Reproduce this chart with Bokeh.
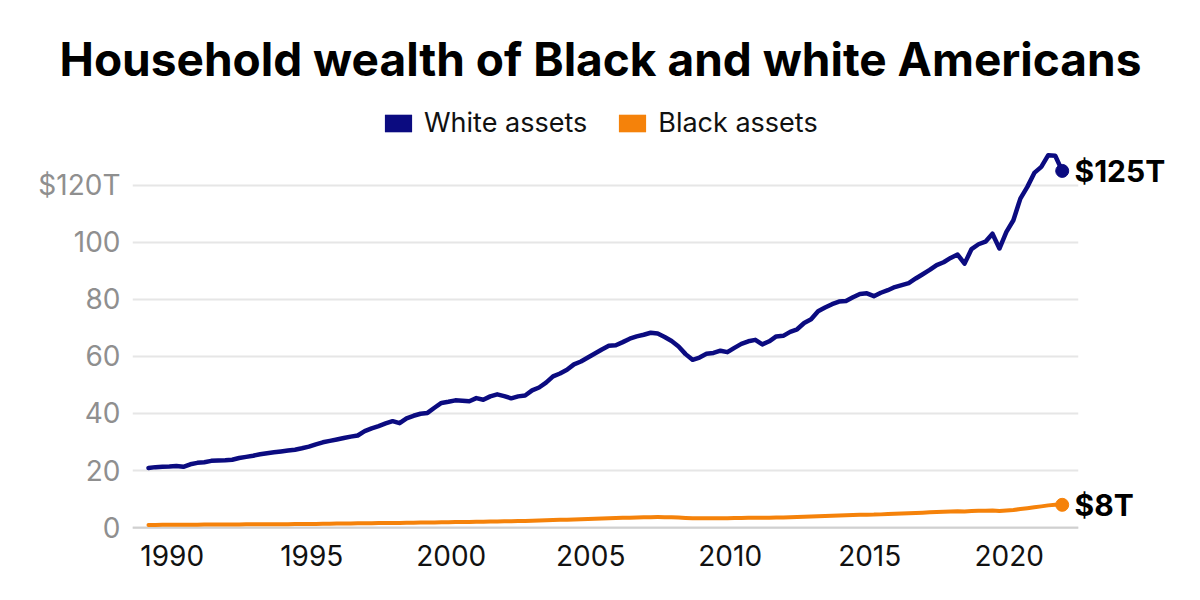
import pandas as pd
from bokeh.plotting import figure
from bokeh.layouts import column
from bokeh.models import (Range1d, FixedTicker, Label, Legend, LegendItem, Span,
                          ColumnDataSource, CustomJSTickFormatter, LinearAxis)
from bokeh.embed import file_html
from bokeh.resources import INLINE

# ---------------- data (trillions of dollars, quarterly) ----------------
quarters = pd.period_range("1989Q3", "2022Q2", freq="Q")

white_assets = [
    20.9, 21.2,                 # 1989 Q3-Q4
    21.3, 21.4, 21.6, 21.3,     # 1990
    22.2, 22.7, 22.9, 23.4,     # 1991
    23.5, 23.6, 23.8, 24.4,     # 1992
    24.8, 25.2, 25.7, 26.1,     # 1993
    26.4, 26.7, 27.0, 27.3,     # 1994
    27.8, 28.4, 29.2, 29.9,     # 1995
    30.4, 30.9, 31.4, 31.9,     # 1996
    32.3, 33.8, 34.8, 35.6,     # 1997
    36.5, 37.3, 36.6, 38.3,     # 1998
    39.2, 39.9, 40.2, 42.0,     # 1999
    43.7, 44.1, 44.6, 44.5,     # 2000
    44.3, 45.4, 44.8, 46.0,     # 2001
    46.7, 46.1, 45.3, 46.0,     # 2002
    46.3, 48.1, 49.1, 50.8,     # 2003
    53.0, 54.0, 55.3, 57.2,     # 2004
    58.2, 59.6, 61.0, 62.4,     # 2005
    63.7, 63.9, 65.0, 66.2,     # 2006
    67.0, 67.6, 68.3, 68.0,     # 2007
    66.8, 65.4, 63.5, 60.8,     # 2008
    58.8, 59.6, 60.9, 61.2,     # 2009
    62.0, 61.5, 63.0, 64.4,     # 2010
    65.3, 65.8, 64.2, 65.3,     # 2011
    67.0, 67.2, 68.6, 69.5,     # 2012
    71.7, 73.0, 75.8, 77.1,     # 2013
    78.3, 79.2, 79.4, 80.7,     # 2014
    81.9, 82.1, 81.1, 82.3,     # 2015
    83.2, 84.3, 85.0, 85.7,     # 2016
    87.3, 88.8, 90.3, 92.0,     # 2017
    93.0, 94.5, 95.7, 92.5,     # 2018
    97.6, 99.3, 100.2, 103.0,   # 2019
    97.8, 103.6, 107.7, 115.3,  # 2020
    119.4, 124.3, 126.4, 130.5, # 2021
    130.3, 125.0,               # 2022 Q1-Q2
]

black_assets = [
    0.95, 0.97,
    0.98, 1.00, 1.00, 0.99,
    1.02, 1.04, 1.06, 1.08,
    1.10, 1.11, 1.12, 1.14,
    1.16, 1.17, 1.18, 1.20,
    1.21, 1.22, 1.23, 1.24,
    1.26, 1.29, 1.32, 1.35,
    1.38, 1.41, 1.44, 1.47,
    1.50, 1.54, 1.58, 1.60,
    1.63, 1.66, 1.65, 1.69,
    1.72, 1.76, 1.79, 1.84,
    1.88, 1.92, 1.96, 1.98,
    2.01, 2.06, 2.08, 2.13,
    2.18, 2.22, 2.24, 2.29,
    2.34, 2.41, 2.48, 2.56,
    2.65, 2.73, 2.80, 2.88,
    2.95, 3.04, 3.12, 3.20,
    3.29, 3.36, 3.43, 3.50,
    3.57, 3.63, 3.68, 3.70,
    3.68, 3.63, 3.55, 3.42,
    3.30, 3.28, 3.30, 3.31,
    3.33, 3.32, 3.36, 3.40,
    3.44, 3.47, 3.45, 3.49,
    3.55, 3.58, 3.64, 3.70,
    3.80, 3.88, 3.98, 4.08,
    4.17, 4.25, 4.32, 4.40,
    4.49, 4.55, 4.57, 4.65,
    4.74, 4.84, 4.94, 5.04,
    5.14, 5.25, 5.36, 5.48,
    5.58, 5.68, 5.78, 5.70,
    5.82, 5.90, 5.96, 6.02,
    5.80, 6.00, 6.20, 6.50,
    6.80, 7.15, 7.45, 7.80,
    8.05, 8.00,
]

year_ticks = [1990, 1995, 2000, 2005, 2010, 2015, 2020]
value_ticks = [0, 20, 40, 60, 80, 100, 120]
series_names = ["White assets", "Black assets"]
title_text = "Household wealth of Black and white Americans"

# ---------------- styling ----------------
NAVY = "#0b0b80"
ORANGE = "#f5820a"
FONT = "Inter"
W = 1200
HEAD_H = 139
MAIN_H = 600 - HEAD_H
ML, MR, MB = 132, 122, 70
FW = W - ML - MR
X0 = 1988.927
X1 = X0 + FW / 27.9
Y0, Y1 = -1.0, 136.0

# ---------------- header: title + legend ----------------
head = figure(width=W, height=HEAD_H, output_backend="svg", toolbar_location=None,
              x_range=Range1d(0, W), y_range=Range1d(HEAD_H, 0),
              x_axis_type=None, y_axis_type=None, min_border=0)
head.frame_align = False
head.outline_line_color = None
head.grid.visible = False
head.background_fill_color = "white"
head.border_fill_color = "white"

head.add_layout(Label(x=600, y=58, text=title_text, text_align="center",
                      text_baseline="middle", text_font=FONT, text_font_size="46px",
                      text_font_style="bold", text_color="#000000"))

nan = float("nan")
sw_w = head.quad(left=[nan], right=[nan], bottom=[nan], top=[nan],
                 fill_color=NAVY, line_color=None)
sw_b = head.quad(left=[nan], right=[nan], bottom=[nan], top=[nan],
                 fill_color=ORANGE, line_color=None)
legend = Legend(items=[LegendItem(label=series_names[0], renderers=[sw_w]),
                       LegendItem(label=series_names[1], renderers=[sw_b])],
                orientation="horizontal", location=(381, 0),
                glyph_width=34, glyph_height=22, label_standoff=9, spacing=28,
                padding=0, margin=0, border_line_color=None, background_fill_alpha=0,
                label_text_font=FONT, label_text_font_size="27px",
                label_text_color="#111111", label_text_baseline="middle")
head.add_layout(legend)

# ---------------- main chart ----------------
x = list(quarters.year + (quarters.quarter - 1) / 4.0)
src = ColumnDataSource(dict(x=x, white=white_assets, black=black_assets))

p = figure(width=W, height=MAIN_H, output_backend="svg", toolbar_location=None,
           x_range=Range1d(X0, X1), y_range=Range1d(Y0, Y1),
           min_border_left=ML, min_border_right=MR,
           min_border_top=0, min_border_bottom=MB)
p.frame_align = False
p.outline_line_color = None
p.background_fill_color = "white"
p.border_fill_color = "white"

p.xgrid.grid_line_color = None
p.ygrid.grid_line_color = "#e6e6e6"
p.ygrid.grid_line_width = 2
p.ygrid.ticker = FixedTicker(ticks=value_ticks)
p.add_layout(Span(location=0, dimension="width", line_color="#d0d0d0",
                  line_width=2, level="underlay"))

TICK_OFFSET = 0.35
p.xaxis.ticker = FixedTicker(ticks=[yr + TICK_OFFSET for yr in year_ticks])
p.xaxis.formatter = CustomJSTickFormatter(code="return Math.floor(tick).toString();")
p.xaxis.axis_line_color = None
p.xaxis.major_tick_line_color = None
p.xaxis.minor_tick_line_color = None
p.xaxis.major_tick_out = 0
p.xaxis.major_tick_in = 0
p.xaxis.major_label_text_font = FONT
p.xaxis.major_label_text_font_size = "28px"
p.xaxis.major_label_text_color = "#111111"
p.xaxis.major_label_standoff = 14

p.yaxis.ticker = FixedTicker(ticks=value_ticks)
p.yaxis.major_label_overrides = {120: "$120T"}
p.yaxis.axis_line_color = None
p.yaxis.major_tick_line_color = None
p.yaxis.minor_tick_line_color = None
p.yaxis.major_tick_out = 0
p.yaxis.major_tick_in = 0
p.yaxis.major_label_text_font = FONT
p.yaxis.major_label_text_font_size = "28px"
p.yaxis.major_label_text_color = "#8f8f8f"
p.yaxis.major_label_standoff = 12

# end-value labels as a right-hand axis
end_axis = LinearAxis(ticker=FixedTicker(ticks=[white_assets[-1], black_assets[-1]]),
                      formatter=CustomJSTickFormatter(code="return '$' + Math.round(tick) + 'T';"),
                      axis_line_color=None, major_tick_line_color=None,
                      minor_tick_line_color=None, major_tick_out=0, major_tick_in=0,
                      major_label_standoff=-4,
                      major_label_text_font=FONT, major_label_text_font_size="30px",
                      major_label_text_font_style="bold", major_label_text_color="#000000")
p.add_layout(end_axis, "right")

p.line("x", "black", source=src, line_color=ORANGE, line_width=4, line_join="round", line_cap="round")
p.line("x", "white", source=src, line_color=NAVY, line_width=4.5, line_join="round", line_cap="round")
p.scatter([x[-1]], [white_assets[-1]], size=13, color=NAVY)
p.scatter([x[-1]], [black_assets[-1]], size=13, color=ORANGE)

layout = column(head, p, spacing=0)
open("out.html", "w").write(file_html(layout, INLINE))
